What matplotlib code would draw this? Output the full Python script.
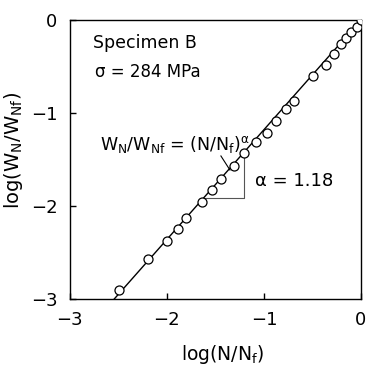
import numpy as np
import matplotlib
matplotlib.use("Agg")
import matplotlib.pyplot as plt

# data
log_n = [-2.49, -2.19, -2.00, -1.89, -1.80, -1.64, -1.53, -1.44, -1.31, -1.20,
         -1.08, -0.97, -0.87, -0.77, -0.69, -0.49, -0.36, -0.28, -0.21, -0.15,
         -0.10, -0.04, 0.0]
log_w = [-2.90, -2.57, -2.38, -2.25, -2.13, -1.96, -1.83, -1.71, -1.57, -1.43,
         -1.31, -1.21, -1.09, -0.96, -0.87, -0.60, -0.48, -0.37, -0.26, -0.19,
         -0.13, -0.07, 0.0]
alpha = 1.18
ticks = [-3, -2, -1, 0]
tri_x = [-1.62, -1.21]

fig = plt.figure(figsize=(3.66, 3.65), dpi=100)
ax = fig.add_axes([0.191, 0.181, 0.795, 0.764])

xl = np.array([-3 / alpha, 0])
ax.plot(xl, alpha * xl, color='black', lw=1.0, zorder=2)
ax.plot(log_n, log_w, 'o', mfc='white', mec='black', ms=6.5, mew=0.9, zorder=3)

# slope triangle
y0 = alpha * tri_x[0]
ax.plot([tri_x[0], tri_x[1], tri_x[1]], [y0, y0, alpha * tri_x[1]],
        color='#555555', lw=0.8, zorder=1)

ax.set_xlim(-3, 0)
ax.set_ylim(-3, 0)
ax.set_xticks(ticks)
ax.set_yticks(ticks)
ax.set_xticklabels([str(t).replace('-', '\u2212') for t in ticks])
ax.set_yticklabels([str(t).replace('-', '\u2212') for t in ticks])
ax.tick_params(direction='in', length=4, width=1, labelsize=13)
ax.tick_params(axis='x', pad=9)
ax.tick_params(axis='y', pad=9)
for s in ax.spines.values():
    s.set_linewidth(1.0)

ax.set_xlabel(r'log(N/N$_\mathregular{f}$)', fontsize=13.5)
ax.set_ylabel(r'log(W$_\mathregular{N}$/W$_\mathregular{Nf}$)', fontsize=14)
ax.xaxis.set_label_coords(0.525, -0.158)
ax.yaxis.set_label_coords(-0.155, 0.534)

ax.text(93, 365 - 43, 'Specimen B', transform=None, fontsize=12.5, va='center')
ax.text(95, 365 - 72, '\u03c3 = 284 MPa', transform=None, fontsize=12, va='center')
ax.text(-2.69, -1.34, r'W$_\mathregular{N}$/W$_\mathregular{Nf}$ = (N/N$_\mathregular{f}$)$^\mathregular{\alpha}$',
        fontsize=12.5, va='center')
ax.plot([-1.443, -1.35], [-1.462, -1.613], color='black', lw=0.8)
ax.text(-1.09, -1.73, '\u03b1 = 1.18', fontsize=13, va='center')

fig.savefig('out.png', dpi=100)
